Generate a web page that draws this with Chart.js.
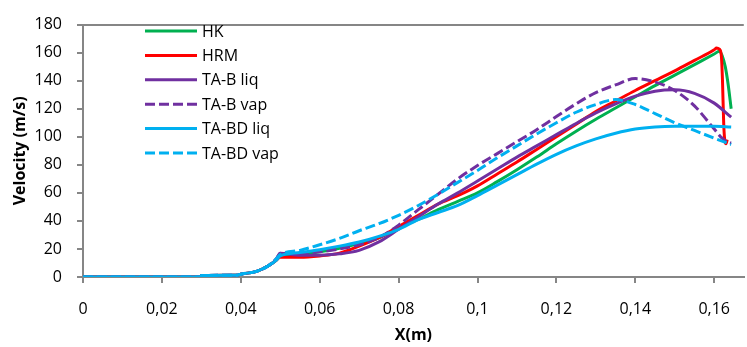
<!DOCTYPE html>
<html>
<head>
<meta charset="utf-8">
<script src="https://cdn.jsdelivr.net/npm/chart.js@4.4.0/dist/chart.umd.min.js"></script>
<style>
    body { margin: 0; background: #ffffff; }
    #grafico { width: 747px; height: 347px; }
</style>
</head>
<body>
<div id="grafico"><canvas id="velocidade" width="747" height="347"></canvas></div>
<script>
// valores (x em m, velocidade em m/s)
var xHK = [0, 0.0299, 0.030, 0.039, 0.040, 0.044, 0.047, 0.049, 0.050, 0.055, 0.060, 0.065, 0.070, 0.075, 0.080, 0.085, 0.090, 0.095, 0.100, 0.105, 0.110, 0.115, 0.120, 0.125, 0.130, 0.135, 0.140, 0.145, 0.150, 0.155, 0.160, 0.1613, 0.1620, 0.1628, 0.1635, 0.1643]
var vHK = [0, 0, 1, 1.2, 2, 4, 8, 12, 15, 16, 18, 20.5, 24, 28, 35, 41, 48, 54, 60, 68, 76.5, 85.5, 95, 104, 112.5, 120.5, 128.5, 136.5, 144, 151.5, 159, 161, 158, 150, 138, 120]

var xHRM = [0, 0.0299, 0.030, 0.039, 0.040, 0.044, 0.047, 0.049, 0.050, 0.055, 0.060, 0.065, 0.070, 0.075, 0.080, 0.085, 0.090, 0.095, 0.100, 0.105, 0.110, 0.115, 0.120, 0.125, 0.130, 0.135, 0.140, 0.145, 0.150, 0.155, 0.160, 0.1606, 0.1613, 0.1618, 0.1621, 0.1624, 0.1627, 0.1630, 0.1633]
var vHRM = [0, 0, 1, 1.2, 2, 4, 8, 12, 14, 14, 15, 17, 22, 28, 36, 44, 52, 58, 65, 73.5, 82, 91, 100, 109, 118, 125.5, 133, 140, 147, 154.5, 162, 163.3, 162.5, 158, 140, 110, 97, 95, 98]

var xTABliq = [0, 0.0299, 0.030, 0.039, 0.040, 0.044, 0.047, 0.049, 0.050, 0.055, 0.060, 0.065, 0.070, 0.075, 0.080, 0.085, 0.090, 0.095, 0.100, 0.105, 0.110, 0.115, 0.120, 0.125, 0.130, 0.135, 0.140, 0.145, 0.150, 0.155, 0.160, 0.1643]
var vTABliq = [0, 0, 1, 1.2, 2, 4, 8, 12.5, 17, 15.5, 15.5, 16.5, 19, 25, 34, 43, 52, 60, 68.5, 77, 85.5, 93.5, 101.5, 109.5, 117, 123.5, 129, 132.5, 133.5, 131, 124, 114]

var xTABvap = [0, 0.0299, 0.030, 0.039, 0.040, 0.044, 0.047, 0.049, 0.050, 0.055, 0.060, 0.065, 0.070, 0.075, 0.080, 0.085, 0.090, 0.095, 0.100, 0.105, 0.110, 0.115, 0.120, 0.125, 0.130, 0.135, 0.140, 0.145, 0.150, 0.155, 0.160, 0.1620, 0.1635, 0.1643]
var vTABvap = [0, 0, 1, 1.2, 2, 4, 8, 13, 17, 17, 18, 20, 23, 28, 37, 48, 59, 70, 79.5, 88, 96.5, 105, 114.5, 123.5, 131.5, 137, 141.5, 139, 133, 122, 105.5, 99, 96, 95.5]

var xTABDliq = [0, 0.0299, 0.030, 0.039, 0.040, 0.044, 0.047, 0.049, 0.050, 0.055, 0.060, 0.065, 0.070, 0.075, 0.080, 0.085, 0.090, 0.095, 0.100, 0.105, 0.110, 0.115, 0.120, 0.125, 0.130, 0.135, 0.140, 0.145, 0.150, 0.155, 0.160, 0.1643]
var vTABDliq = [0, 0, 1, 1.2, 2, 4, 8, 12, 15, 17.5, 19.5, 22, 25, 29, 34, 41, 46, 51, 58, 65.5, 73, 80.5, 87.5, 93.5, 98.5, 102.5, 105.5, 107, 107.5, 107.5, 107.5, 107]

var xTABDvap = [0, 0.0299, 0.030, 0.039, 0.040, 0.044, 0.047, 0.049, 0.050, 0.055, 0.060, 0.065, 0.070, 0.075, 0.080, 0.085, 0.090, 0.095, 0.100, 0.105, 0.110, 0.115, 0.120, 0.125, 0.130, 0.135, 0.140, 0.145, 0.150, 0.155, 0.160, 0.1643]
var vTABDvap = [0, 0, 1, 1.2, 2, 4, 8, 13, 16, 19, 23, 27.5, 33, 38, 44, 51, 59, 67.5, 76, 85, 93.5, 102, 110, 117.5, 123, 126.5, 123, 116.5, 110, 104.5, 99, 94.5]

var nomes = ['HK', 'HRM', 'TA-B liq', 'TA-B vap', 'TA-BD liq', 'TA-BD vap']

var eixoX = { min: 0, max: 0.1675, passo: 0.02, titulo: 'X(m)' }
var eixoY = { min: 0, max: 180, passo: 20, titulo: 'Velocity (m/s)' }

function pontos(xs, vs) {
    return xs.map(function (x, i) { return { x: x, y: vs[i] } })
}

function serie(nome, xs, vs, cor, tracejado, ordem) {
    return {
        label: nome,
        data: pontos(xs, vs),
        borderColor: cor,
        backgroundColor: cor,
        borderWidth: 3,
        borderDash: tracejado ? [10, 4] : [],
        pointRadius: 0,
        cubicInterpolationMode: 'monotone',
        fill: false,
        order: ordem
    }
}

// legenda desenhada dentro da area do grafico, como no original
var legendaInterna = {
    id: 'legendaInterna',
    afterDatasetsDraw: function (chart) {
        var ctx = chart.ctx
        ctx.save()
        ctx.font = '16px "Open Sans"'
        ctx.textBaseline = 'middle'
        ctx.fillStyle = '#000000'
        chart.data.datasets.forEach(function (ds, i) {
            var y = 31 + i * 24.4
            ctx.beginPath()
            ctx.strokeStyle = ds.borderColor
            ctx.lineWidth = 3
            ctx.setLineDash(ds.borderDash)
            ctx.moveTo(145, y)
            ctx.lineTo(197, y)
            ctx.stroke()
            ctx.setLineDash([])
            ctx.fillText(ds.label, 202, y + 1)
        })
        ctx.restore()
    }
}

Chart.defaults.font.family = '"Open Sans"'
Chart.defaults.font.size = 16
Chart.defaults.color = '#000000'

var graficoVelocidade = new Chart(document.getElementById('velocidade'), {
    type: 'line',
    data: {
        datasets: [
            serie(nomes[0], xHK, vHK, '#00B050', false, 6),
            serie(nomes[1], xHRM, vHRM, '#FF0000', false, 5),
            serie(nomes[2], xTABliq, vTABliq, '#7030A0', false, 4),
            serie(nomes[3], xTABvap, vTABvap, '#7030A0', true, 3),
            serie(nomes[4], xTABDliq, vTABDliq, '#00B0F0', false, 2),
            serie(nomes[5], xTABDvap, vTABDvap, '#00B0F0', true, 1)
        ]
    },
    options: {
        responsive: false,
        animation: false,
        layout: { padding: { top: 16, left: 0, right: 0, bottom: 0 } },
        plugins: {
            legend: { display: false },
            tooltip: { enabled: false }
        },
        scales: {
            x: {
                type: 'linear',
                min: eixoX.min,
                max: eixoX.max,
                afterFit: function (s) { s.height = 70 },
                border: { color: '#868686', width: 2 },
                grid: { drawOnChartArea: false, tickLength: 6, tickColor: '#868686', lineWidth: 2 },
                ticks: {
                    stepSize: eixoX.passo,
                    includeBounds: false,
                    autoSkip: false,
                    maxRotation: 0,
                    padding: 17,
                    callback: function (v) {
                        return String(Math.round(v * 100) / 100).replace('.', ',')
                    }
                },
                title: {
                    display: true,
                    text: eixoX.titulo,
                    font: { weight: 'bold', size: 16 },
                    padding: { top: 0, bottom: 2 }
                }
            },
            y: {
                min: eixoY.min,
                max: eixoY.max,
                afterFit: function (s) { s.width = 83 },
                border: { color: '#868686', width: 2 },
                grid: {
                    tickLength: 6,
                    tickColor: '#868686',
                    lineWidth: 2,
                    color: function (c) {
                        return c.tick && c.tick.value === eixoY.max ? '#868686' : 'rgba(0,0,0,0)'
                    }
                },
                ticks: { stepSize: eixoY.passo, padding: 15 },
                title: {
                    display: true,
                    text: eixoY.titulo,
                    font: { weight: 'bold', size: 16 },
                    padding: { top: 11, bottom: 0 }
                }
            }
        }
    },
    plugins: [legendaInterna]
})
</script>
</body>
</html>
